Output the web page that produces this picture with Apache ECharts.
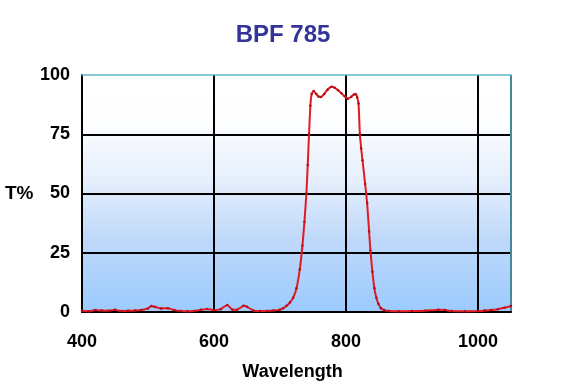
<!DOCTYPE html>
<html>
<head>
<meta charset="utf-8">
<script src="https://cdn.jsdelivr.net/npm/echarts@6/dist/echarts.min.js"></script>
<style>html,body{margin:0;padding:0;background:#fff;}#c{width:566px;height:390px;}</style>
</head>
<body>
<div id="c"></div>
<script>
const titleText = 'BPF 785';
const xAxisName = 'Wavelength';
const yAxisName = 'T%';
const wavelength = [400,410,420,430,440,450,460,470,480,490,500,505,510,520,530,540,550,560,570,580,590,600,610,620,628,635,645,650,660,670,680,690,700,705,710,715,720,725,730,734,737,740,742,744,746,748,751,755,758,762,767,772,778,783,788,793,798,803,808,812,815,817,819,821,823,825,829,832,835,837,840,843,846,849,853,858,865,880,900,920,940,950,960,980,1000,1010,1020,1030,1040,1050];
const transmission = [0.5,0.3,0.8,0.6,0.5,0.9,0.4,0.5,0.6,0.8,1.5,2.5,2.2,1.5,1.6,0.8,0.4,0.3,0.4,0.9,1.3,0.8,1.2,3.0,1.0,1.0,2.6,2.2,0.6,0.4,0.4,0.6,1.0,1.6,2.6,4.0,6.0,10,18,28,38,50,62,75,87,92,93.3,92,91,90.7,92,93.8,95,94.6,93.6,92.3,91,90,90.8,91.8,91.9,90.5,88,75,69,64,54,46,34,26,17,10,6,3.5,1.6,0.8,0.4,0.3,0.4,0.5,1.0,0.8,0.4,0.3,0.4,0.6,0.8,1.2,1.8,2.5];
const xTicks = [400,600,800,1000];
const yTicks = [0,25,50,75,100];

const FONT = 'Liberation Sans, Arial, sans-serif';
const chart = echarts.init(document.getElementById('c'), null, {renderer:'canvas'});
const pts = wavelength.map((w,i)=>[w, transmission[i]]);
chart.setOption({
  animation:false,
  backgroundColor:'#ffffff',
  title:{text:titleText,left:'center',top:18,
    textStyle:{color:'#333399',fontFamily:FONT,fontWeight:'bold',fontSize:24}},
  grid:{left:82,right:55,top:75,bottom:78,show:true,borderWidth:0,
    backgroundColor:{type:'linear',x:0,y:0,x2:0,y2:1,colorStops:[
      {offset:0,color:'#ffffff'},{offset:0.2,color:'#fdfeff'},{offset:0.45,color:'#e4eefc'},
      {offset:0.7,color:'#bed8fa'},{offset:1,color:'#9ccbff'}]}},
  xAxis:[{type:'value',min:xTicks[0],max:1050,interval:200,
    axisLine:{show:true,lineStyle:{color:'#000',width:2}},
    axisTick:{show:false},
    axisLabel:{show:true,margin:21,showMaxLabel:false,color:'#000',fontFamily:FONT,fontWeight:'bold',fontSize:18,
      formatter:v=>xTicks.includes(v)?String(v):''},
    splitLine:{show:true,lineStyle:{color:'#000',width:2}},
    name:xAxisName,nameLocation:'middle',nameGap:51,
    nameTextStyle:{color:'#000',fontFamily:FONT,fontWeight:'bold',fontSize:18,padding:[0,8,0,0]}},
   {type:'value',position:'top',min:400,max:1050,axisLine:{show:true,onZero:false,lineStyle:{color:'#5fb7c9',width:1.5}},
    axisTick:{show:false},axisLabel:{show:false},splitLine:{show:false}}],
  yAxis:[{type:'value',min:0,max:100,interval:25,
    axisLine:{show:true,lineStyle:{color:'#000',width:2}},
    axisTick:{show:false},
    axisLabel:{margin:12,color:'#000',fontFamily:FONT,fontWeight:'bold',fontSize:18,
      formatter:v=>yTicks.includes(v)?String(v):''},
    splitLine:{show:true,showMaxLine:false,lineStyle:{color:'#000',width:2}}},
   {type:'value',position:'right',min:0,max:100,axisLine:{show:true,onZero:false,lineStyle:{color:'#5fb7c9',width:1.5}},
    axisTick:{show:false},axisLabel:{show:false},splitLine:{show:false}}],
  graphic:[{type:'text',left:5,top:184,style:{text:yAxisName,fill:'#000',font:'bold 19px "Liberation Sans", Arial, sans-serif'}}],
  series:[{type:'line',data:pts,xAxisIndex:0,yAxisIndex:0,smooth:0.15,
    showSymbol:true,symbol:'circle',symbolSize:2.5,
    itemStyle:{color:'#b0101a'},
    lineStyle:{color:'#e41a22',width:2}}]
});
</script>
</body>
</html>
